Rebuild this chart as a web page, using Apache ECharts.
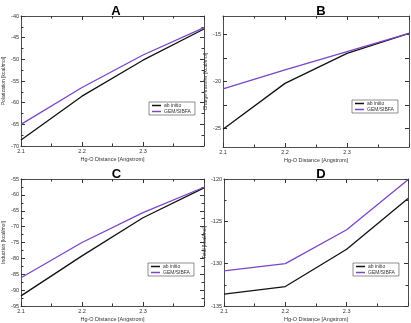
<!DOCTYPE html>
<html>
<head>
<meta charset="utf-8">
<script src="https://cdn.jsdelivr.net/npm/echarts@6/dist/echarts.min.js"></script>
<style>
  html, body { margin: 0; padding: 0; background: #fff; }
  #main { width: 411px; height: 323px; }
</style>
</head>
<body>
<div id="main"></div>
<script>
// Hg-O distance (Angstrom)
let distances = [2.1, 2.2, 2.3, 2.4]

// energies in kcal/mol
let polAbInitio = [-68.6, -58.5, -50.2, -43.0]
let polGem = [-65.0, -56.5, -49.0, -42.7]
let ctAbInitio = [-25.1, -20.2, -17.0, -14.85]
let ctGem = [-20.8, -18.75, -16.8, -14.85]
let indAbInitio = [-91.8, -79.2, -67.2, -57.8]
let indGem = [-86.1, -75.0, -65.6, -57.6]
let totAbInitio = [-133.6, -132.7, -128.3, -122.3]
let totGem = [-130.85, -130.0, -126.0, -120.1]

let panelTitles = ['A', 'B', 'C', 'D']
let yNames = ['Polarization [kcal/mol]', 'Charge-transfer [kcal/mol]', 'Induction [kcal/mol]', 'Total [kcal/mol]']
let seriesNames = ['ab initio', 'GEM/SIBFA']

let myChart = echarts.init(document.getElementById('main'))

let font = 'Liberation Sans, Arial, sans-serif'
let axisColor = '#222'

// grid boxes (px)
let grids = [
    { left: 18, top: 16, width: 186, height: 130 },
    { left: 223, top: 16, width: 186, height: 131 },
    { left: 19, top: 179, width: 185, height: 127 },
    { left: 224, top: 179, width: 184, height: 128 }
]
let yRanges = [
    { min: -70, max: -40, interval: 5 },
    { min: -27, max: -13, custom: [-25, -20, -15] },
    { min: -95, max: -55, interval: 5 },
    { min: -135, max: -120, interval: 5 }
]
let legendPos = [
    { left: 149, top: 102 },
    { left: 352, top: 100 },
    { left: 148, top: 263 },
    { left: 353, top: 263 }
]
let data = [
    [polAbInitio, polGem],
    [ctAbInitio, ctGem],
    [indAbInitio, indGem],
    [totAbInitio, totGem]
]

function pairs(xs, ys) {
    return xs.map(function (x, i) { return [x, ys[i]] })
}

let option = {
    animation: false,
    backgroundColor: '#fff',
    title: [],
    legend: [],
    grid: [],
    xAxis: [],
    yAxis: [],
    series: []
}

grids.forEach(function (g, i) {
    option.grid.push(g)
    option.title.push({
        text: panelTitles[i],
        left: g.left + g.width / 2,
        top: g.top - 16,
        textAlign: 'center',
        textStyle: { fontSize: 13, fontWeight: 'bold', color: '#000', fontFamily: font }
    })
    option.legend.push({
        data: seriesNames,
        left: legendPos[i].left,
        top: legendPos[i].top,
        orient: 'vertical',
        itemWidth: 9,
        itemHeight: 1.5,
        itemGap: 1,
        padding: [1, 4, 1, 3],
        borderColor: '#444',
        borderWidth: 0.6,
        icon: 'rect',
        textStyle: { fontSize: 5, color: '#333', fontFamily: font, padding: [0, 0, 0, -2] }
    })

    let tickStyle = { show: true, inside: true, length: 4, lineStyle: { color: '#333', width: 1 } }
    let minor = { show: true, splitNumber: 2, length: 2.5, lineStyle: { color: '#333', width: 1 } }

    // bottom x axis with labels
    option.xAxis.push({
        type: 'value', gridIndex: i, min: 2.1, max: 2.4, interval: 0.1,
        name: 'Hg-O Distance [Angstrom]', nameLocation: 'middle', nameGap: 10,
        nameTextStyle: { fontSize: 5.5, color: '#333', fontFamily: font },
        axisLine: { lineStyle: { color: axisColor, width: 0.8 } },
        axisTick: tickStyle, minorTick: minor,
        axisLabel: { fontSize: 5.5, color: '#333', fontFamily: font, margin: 2, showMaxLabel: false },
        splitLine: { show: false }, minorSplitLine: { show: false }
    })
    // top mirror axis
    option.xAxis.push({
        type: 'value', gridIndex: i, position: 'top', min: 2.1, max: 2.4, interval: 0.1,
        axisLine: { lineStyle: { color: axisColor, width: 0.8 } },
        axisTick: tickStyle, minorTick: minor,
        axisLabel: { show: false }, splitLine: { show: false }
    })

    let r = yRanges[i]
    let yLeft = {
        type: 'value', gridIndex: i, min: r.min, max: r.max,
        name: yNames[i], nameLocation: 'middle', nameGap: 15, nameRotate: 90,
        nameTextStyle: { fontSize: 5, color: '#333', fontFamily: font },
        axisLine: { show: true, lineStyle: { color: axisColor, width: 0.8 } },
        axisTick: Object.assign({}, tickStyle),
        axisLabel: { fontSize: 5.5, color: '#333', fontFamily: font, margin: 2 },
        splitLine: { show: false }
    }
    let yRight = {
        type: 'value', gridIndex: i, position: 'right', min: r.min, max: r.max,
        axisLine: { show: true, lineStyle: { color: axisColor, width: 0.8 } },
        axisTick: Object.assign({}, tickStyle),
        axisLabel: { show: false }, splitLine: { show: false }
    }
    if (r.custom) {
        yLeft.axisLabel.customValues = r.custom
        yLeft.axisTick.customValues = [-25, -22.5, -20, -17.5, -15]
        yRight.axisTick.customValues = [-25, -22.5, -20, -17.5, -15]
    } else {
        yLeft.interval = r.interval
        yRight.interval = r.interval
        yLeft.minorTick = minor
        yRight.minorTick = minor
    }
    option.yAxis.push(yLeft)
    option.yAxis.push(yRight)

    option.series.push({
        name: seriesNames[0], type: 'line', xAxisIndex: i * 2, yAxisIndex: i * 2,
        data: pairs(distances, data[i][0]), showSymbol: false,
        lineStyle: { color: '#111', width: 1.3 }, itemStyle: { color: '#111' }
    })
    option.series.push({
        name: seriesNames[1], type: 'line', xAxisIndex: i * 2, yAxisIndex: i * 2,
        data: pairs(distances, data[i][1]), showSymbol: false,
        lineStyle: { color: '#7a45c8', width: 1.3 }, itemStyle: { color: '#7a45c8' }
    })
})

myChart.setOption(option)
</script>
</body>
</html>
